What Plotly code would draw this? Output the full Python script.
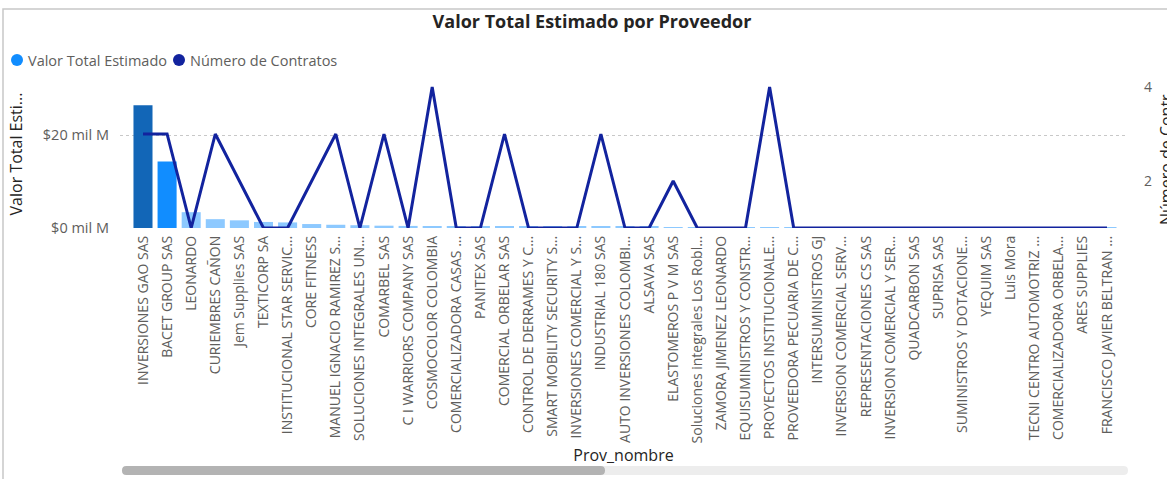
import plotly.graph_objects as go

# ---------------- data ----------------
proveedores = [
    "INVERSIONES GAO SAS", "BACET GROUP SAS", "LEONARDO", "CURIEMBRES CAÑON",
    "Jem Supplies SAS", "TEXTICORP SA", "INSTITUCIONAL STAR SERVIC...", "CORE FITNESS",
    "MANUEL IGNACIO RAMIREZ S...", "SOLUCIONES INTEGRALES UN...", "COMARBEL SAS",
    "C I WARRIORS COMPANY SAS", "COSMOCOLOR COLOMBIA", "COMERCIALIZADORA CASAS ...",
    "PANITEX SAS", "COMERCIAL ORBELAR SAS", "CONTROL DE DERRAMES Y C...",
    "SMART MOBILITY SECURITY S...", "INVERSIONES COMERCIAL Y S...", "INDUSTRIAL 180 SAS",
    "AUTO INVERSIONES COLOMBI...", "ALSAVA SAS", "ELASTOMEROS P V M SAS",
    "Soluciones integrales Los Robl...", "ZAMORA JIMENEZ LEONARDO",
    "EQUISUMINISTROS Y CONSTR...", "PROYECTOS INSTITUCIONALE...",
    "PROVEEDORA PECUARIA DE C...", "INTERSUMINISTROS GJ", "INVERSION COMERCIAL SERV...",
    "REPRESENTACIONES CS SAS", "INVERSION COMERCIAL Y SER...", "QUADCARBON SAS",
    "SUPRISA SAS", "SUMINISTROS Y DOTACIONE...", "YEQUIM SAS", "Luis Mora",
    "TECNI CENTRO AUTOMOTRIZ ...", "COMERCIALIZADORA ORBELA...", "ARES SUPPLIES",
    "FRANCISCO JAVIER BELTRAN ...",
]

# Valor Total Estimado, in "mil M" (thousands of millions of pesos)
valor_total_mil_m = [
    26.4, 14.3, 3.4, 1.9, 1.65, 1.3, 1.2, 0.85, 0.7, 0.6,
    0.5, 0.45, 0.4, 0.36, 0.33, 0.31, 0.29, 0.27, 0.25, 0.24,
    0.23, 0.22, 0.21, 0.2, 0.19, 0.18, 0.17, 0.16, 0.15, 0.14,
    0.14, 0.13, 0.12, 0.12, 0.11, 0.11, 0.1, 0.1, 0.09, 0.09, 0.08,
]

numero_contratos = [
    3, 3, 1, 3, 2, 1, 1, 2, 3, 1,
    3, 1, 4, 1, 1, 3, 1, 1, 1, 3,
    1, 1, 2, 1, 1, 1, 4, 1, 1, 1,
    1, 1, 1, 1, 1, 1, 1, 1, 1, 1, 1,
]

left_tick_vals = [0, 20]
left_tick_text = ["$0 mil M", "$20 mil M"]
right_tick_vals = [2, 4]

# ---------------- styles ----------------
FONT = "Open Sans, Segoe UI, sans-serif"
GRAY = "#605E5C"
DARK = "#252423"
BAR_DARK = "#1266B7"
BAR_MID = "#118DFF"
BAR_LIGHT = "#8DC9FF"
LINE_COLOR = "#12239E"

bar_colors = [BAR_DARK, BAR_MID] + [BAR_LIGHT] * (len(proveedores) - 2)

W, H = 1167, 479
L, R, T, B = 120, 1127, 80, 228


def px(x):
    return (x - L) / (R - L)


def py(y):
    return (B - y) / (B - T)


def rounded_rect(x0, y0, x1, y1, r):
    pts = [
        ("M", [(x0 + r, y0)]),
        ("L", [(x1 - r, y0)]),
        ("Q", [(x1, y0), (x1, y0 + r)]),
        ("L", [(x1, y1 - r)]),
        ("Q", [(x1, y1), (x1 - r, y1)]),
        ("L", [(x0 + r, y1)]),
        ("Q", [(x0, y1), (x0, y1 - r)]),
        ("L", [(x0, y0 + r)]),
        ("Q", [(x0, y0), (x0 + r, y0)]),
    ]
    s = ""
    for cmd, ps in pts:
        s += cmd + " " + " ".join(f"{px(a):.5f},{py(b):.5f}" for a, b in ps) + " "
    return s + "Z"


fig = go.Figure()

fig.add_trace(go.Bar(
    x=proveedores, y=valor_total_mil_m, name="Valor Total Estimado",
    marker=dict(color=bar_colors, line=dict(width=0)),
    width=0.79, yaxis="y", showlegend=False,
    hovertemplate="%{x}<br>$%{y:.1f} mil M<extra></extra>",
))

fig.add_trace(go.Scatter(
    x=proveedores, y=numero_contratos, name="Número de Contratos",
    mode="lines", line=dict(color=LINE_COLOR, width=3),
    yaxis="y2", showlegend=False,
))

shapes = [
    # visual frame
    dict(type="rect", xref="paper", yref="paper",
         x0=px(3), y0=py(9), x1=px(1300), y1=py(600),
         line=dict(color="#C8C8C8", width=1.5), fillcolor="rgba(0,0,0,0)", layer="below"),
    # legend circles
    dict(type="circle", xref="paper", yref="paper",
         x0=px(11), x1=px(23), y0=py(54), y1=py(66),
         fillcolor=BAR_MID, line=dict(width=0)),
    dict(type="circle", xref="paper", yref="paper",
         x0=px(173), x1=px(185), y0=py(54), y1=py(66),
         fillcolor=LINE_COLOR, line=dict(width=0)),
    # scrollbar
    dict(type="path", xref="paper", yref="paper",
         path=rounded_rect(122, 466, 1128, 475, 4.5),
         fillcolor="#EDEDED", line=dict(width=0)),
    dict(type="path", xref="paper", yref="paper",
         path=rounded_rect(122, 466, 605, 475, 4.5),
         fillcolor="#B3B3B3", line=dict(width=0)),
]

annotations = [
    dict(text="Valor Total Estimado", xref="paper", yref="paper",
         x=px(26), y=py(60), xanchor="left", yanchor="middle", showarrow=False,
         font=dict(family=FONT, size=14.5, color=GRAY)),
    dict(text="Número de Contratos", xref="paper", yref="paper",
         x=px(188), y=py(60), xanchor="left", yanchor="middle", showarrow=False,
         font=dict(family=FONT, size=14.5, color=GRAY)),
    # secondary axis title (cut by the right edge, as in the original visual)
    dict(text="Número de Contr...", xref="paper", yref="paper",
         x=px(1166), y=py(154), xanchor="center", yanchor="middle",
         textangle=-90, showarrow=False,
         font=dict(family=FONT, size=16, color=DARK)),
]

fig.update_layout(
    width=W, height=H, autosize=False,
    margin=dict(l=L, r=W - R, t=T, b=H - B, pad=0),
    paper_bgcolor="white", plot_bgcolor="white",
    font=dict(family=FONT, color=GRAY),
    title=dict(text="<b>Valor Total Estimado por Proveedor</b>",
               x=592 / W, xanchor="center", xref="container",
               y=1 - 22 / H, yanchor="middle", yref="container",
               font=dict(family=FONT, size=18, color=DARK)),
    bargap=0.21,
    showlegend=False,
    xaxis=dict(
        type="category", range=[-0.954, 40.83],
        tickangle=-90, tickfont=dict(size=14, color=GRAY),
        showgrid=False, showline=False, zeroline=False, ticks="",
        ticklabelstandoff=4, automargin=False,
        title=dict(text="Prov_nombre", font=dict(size=16, color=DARK), standoff=7),
    ),
    yaxis=dict(
        range=[0, (B - T) / 4.65],
        tickvals=left_tick_vals, ticktext=left_tick_text,
        tickfont=dict(size=14.5, color=GRAY),
        showgrid=True, gridcolor="#C8C8C8", griddash="dot", gridwidth=1,
        zeroline=False, showline=False, ticks="",
        ticklabelstandoff=10, automargin=False,
        title=dict(text="Valor Total Esti...", font=dict(size=16, color=DARK), standoff=16),
    ),
    yaxis2=dict(
        overlaying="y", side="right",
        range=[1, 4 + 7 / 47],
        tickvals=right_tick_vals,
        tickfont=dict(size=14, color=GRAY),
        showgrid=False, zeroline=False, showline=False, ticks="",
        ticklabelstandoff=16, automargin=False,
    ),
    shapes=shapes,
    annotations=annotations,
)

fig.write_html(
    "out.html",
    config={"displayModeBar": False},
    post_script="document.body.style.margin='0';document.body.style.padding='0';",
)
